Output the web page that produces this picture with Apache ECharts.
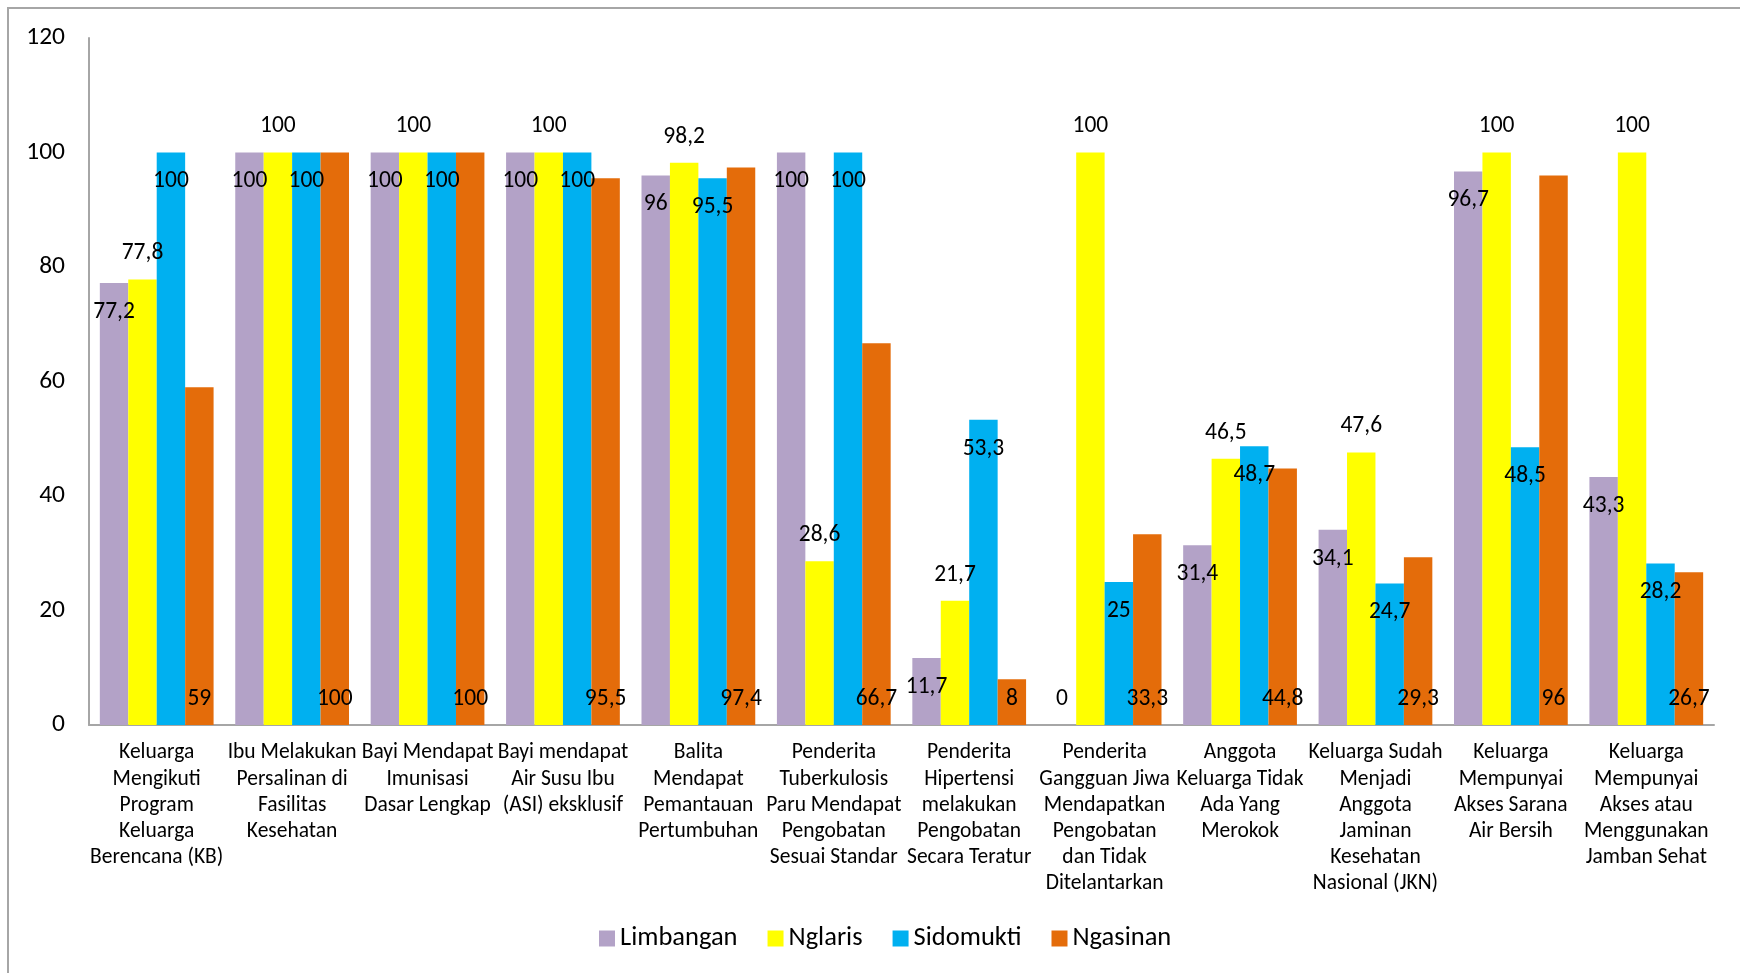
<!DOCTYPE html>
<html>
<head>
<meta charset="utf-8">
<script src="https://cdn.jsdelivr.net/npm/echarts@6/dist/echarts.min.js"></script>
<style>
  html, body { margin: 0; padding: 0; background: #fff; }
  #main { width: 1740px; height: 973px; }
</style>
</head>
<body>
<div id="main"></div>
<script>
// categories (wrapped as in the source chart)
var categories = [
  "Keluarga\nMengikuti\nProgram\nKeluarga\nBerencana (KB)",
  "Ibu Melakukan\nPersalinan di\nFasilitas\nKesehatan",
  "Bayi Mendapat\nImunisasi\nDasar Lengkap",
  "Bayi mendapat\nAir Susu Ibu\n(ASI) eksklusif",
  "Balita\nMendapat\nPemantauan\nPertumbuhan",
  "Penderita\nTuberkulosis\nParu Mendapat\nPengobatan\nSesuai Standar",
  "Penderita\nHipertensi\nmelakukan\nPengobatan\nSecara Teratur",
  "Penderita\nGangguan Jiwa\nMendapatkan\nPengobatan\ndan Tidak\nDitelantarkan",
  "Anggota\nKeluarga Tidak\nAda Yang\nMerokok",
  "Keluarga Sudah\nMenjadi\nAnggota\nJaminan\nKesehatan\nNasional (JKN)",
  "Keluarga\nMempunyai\nAkses Sarana\nAir Bersih",
  "Keluarga\nMempunyai\nAkses atau\nMenggunakan\nJamban Sehat"
];
var limbangan = [77.2, 100, 100, 100, 96, 100, 11.7, 0, 31.4, 34.1, 96.7, 43.3];
var nglaris   = [77.8, 100, 100, 100, 98.2, 28.6, 21.7, 100, 46.5, 47.6, 100, 100];
var sidomukti = [100, 100, 100, 100, 95.5, 100, 53.3, 25, 48.7, 24.7, 48.5, 28.2];
var ngasinan  = [59, 100, 100, 95.5, 97.4, 66.7, 8, 33.3, 44.8, 29.3, 96, 26.7];
var yTicks = [0, 20, 40, 60, 80, 100, 120];

var FONT = "Carlito, Lato, 'Noto Sans', sans-serif";

function fmt(p) {
  return String(p.value).replace(".", ",");
}

var baseLabel = {
  show: true,
  color: "#000",
  fontFamily: FONT,
  fontSize: 23.5,
  formatter: fmt
};

// zero-height bar: label sits just above the axis like Excel does
function withZero(arr) {
  return arr.map(function (v) {
    if (v === 0) {
      return { value: v, label: { position: "top", distance: 14 } };
    }
    return v;
  });
}

var myChart = echarts.init(document.getElementById("main"));
myChart.setOption({
  animation: false,
  textStyle: { fontFamily: FONT },
  graphic: [
    {
      type: "rect",
      shape: { x: 8, y: 8, width: 1800, height: 1100 },
      style: { fill: "none", stroke: "#A6A6A6", lineWidth: 2 },
      silent: true
    }
  ],
  legend: {
    bottom: 16,
    left: 594,
    itemWidth: 16,
    itemHeight: 16,
    itemGap: 30,
    icon: "rect",
    textStyle: { fontSize: 26.5, fontFamily: FONT, color: "#000" },
    data: ["Limbangan", "Nglaris", "Sidomukti", "Ngasinan"]
  },
  grid: { left: 89, right: 26, top: 38, bottom: 248, containLabel: false },
  xAxis: {
    type: "category",
    data: categories,
    axisLine: { lineStyle: { color: "#A6A6A6", width: 2 } },
    axisTick: { show: false },
    axisLabel: {
      interval: 0,
      margin: 15,
      color: "#000",
      fontSize: 21.5,
      lineHeight: 26.2,
      fontFamily: FONT
    }
  },
  yAxis: {
    type: "value",
    min: 0,
    max: 120,
    interval: 20,
    axisLine: { show: true, lineStyle: { color: "#A6A6A6", width: 2 } },
    axisTick: { show: false },
    splitLine: { show: false },
    axisLabel: {
      color: "#000",
      fontSize: 25.5,
      margin: 24,
      fontFamily: FONT,
      formatter: function (v) { return yTicks.indexOf(v) >= 0 ? String(v) : ""; }
    }
  },
  series: [
    {
      name: "Limbangan",
      type: "bar",
      barGap: "0%",
      barCategoryGap: "16%",
      itemStyle: { color: "#B3A2C7" },
      label: Object.assign({}, baseLabel, { position: "insideTop", distance: 17 }),
      data: withZero(limbangan)
    },
    {
      name: "Nglaris",
      type: "bar",
      itemStyle: { color: "#FFFF00" },
      label: Object.assign({}, baseLabel, { position: "top", distance: 14 }),
      data: nglaris
    },
    {
      name: "Sidomukti",
      type: "bar",
      itemStyle: { color: "#00B0F0" },
      label: Object.assign({}, baseLabel, { position: "insideTop", distance: 17 }),
      data: sidomukti
    },
    {
      name: "Ngasinan",
      type: "bar",
      itemStyle: { color: "#E46C0A" },
      label: Object.assign({}, baseLabel, { position: "insideBottom", distance: 14 }),
      data: ngasinan
    }
  ]
});
</script>
</body>
</html>
